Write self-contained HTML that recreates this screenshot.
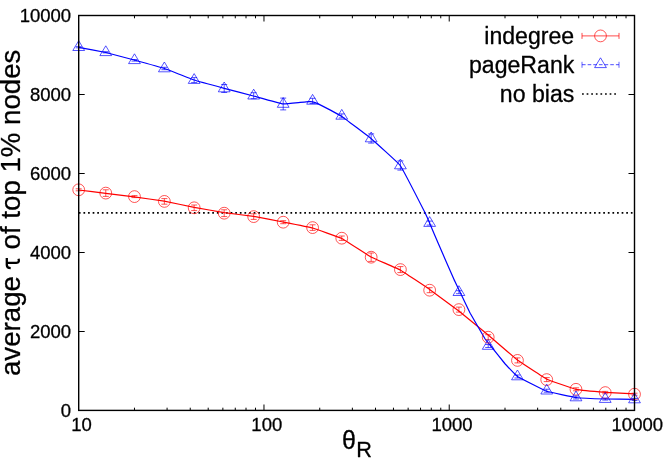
<!DOCTYPE html>
<html><head><meta charset="utf-8"><title>plot</title>
<style>html,body{margin:0;padding:0;background:#fff;}body{width:664px;height:465px;position:relative;overflow:hidden;font-family:"Liberation Sans",sans-serif;}</style></head>
<body>
<svg width="664" height="465" viewBox="0 0 664 465" style="position:absolute;left:0;top:0;will-change:transform;transform:translateZ(0)">
<path d="M134.47,410.50v-2.80M134.47,15.50v2.80M167.09,410.50v-2.80M167.09,15.50v2.80M190.24,410.50v-2.80M190.24,15.50v2.80M208.20,410.50v-2.80M208.20,15.50v2.80M222.87,410.50v-2.80M222.87,15.50v2.80M235.27,410.50v-2.80M235.27,15.50v2.80M246.01,410.50v-2.80M246.01,15.50v2.80M255.49,410.50v-2.80M255.49,15.50v2.80M263.97,410.50v-6.00M263.97,15.50v6.00M319.74,410.50v-2.80M319.74,15.50v2.80M352.36,410.50v-2.80M352.36,15.50v2.80M375.51,410.50v-2.80M375.51,15.50v2.80M393.46,410.50v-2.80M393.46,15.50v2.80M408.13,410.50v-2.80M408.13,15.50v2.80M420.54,410.50v-2.80M420.54,15.50v2.80M431.28,410.50v-2.80M431.28,15.50v2.80M440.76,410.50v-2.80M440.76,15.50v2.80M449.23,410.50v-6.00M449.23,15.50v6.00M505.00,410.50v-2.80M505.00,15.50v2.80M537.63,410.50v-2.80M537.63,15.50v2.80M560.77,410.50v-2.80M560.77,15.50v2.80M578.73,410.50v-2.80M578.73,15.50v2.80M593.40,410.50v-2.80M593.40,15.50v2.80M605.80,410.50v-2.80M605.80,15.50v2.80M616.55,410.50v-2.80M616.55,15.50v2.80M626.02,410.50v-2.80M626.02,15.50v2.80M78.70,331.50h6.00M634.50,331.50h-6.00M78.70,252.50h6.00M634.50,252.50h-6.00M78.70,173.50h6.00M634.50,173.50h-6.00M78.70,94.50h6.00M634.50,94.50h-6.00" stroke="#000" stroke-width="1" fill="none"/>
<path d="M78.85,212.90H634.50" stroke="#000" stroke-width="1.7" stroke-dasharray="1.7 2.9" fill="none"/>
<path d="M78.60,190.00 C79.51,190.11 103.95,193.07 105.80,193.30 C107.65,193.53 132.25,196.54 134.20,196.80 C136.15,197.06 162.20,200.85 164.20,201.20 C166.20,201.55 192.20,206.92 194.20,207.30 C196.20,207.68 222.22,212.30 224.20,212.60 C226.18,212.90 251.64,216.09 253.60,216.40 C255.56,216.71 281.03,221.61 283.00,222.00 C284.97,222.39 310.64,227.45 312.60,228.00 C314.56,228.55 339.85,237.53 341.80,238.50 C343.75,239.47 369.05,255.95 371.00,257.00 C372.95,258.05 398.25,268.92 400.20,270.00 C402.15,271.08 427.65,288.03 429.60,289.40 C431.55,290.77 456.85,309.48 458.80,311.00 C460.75,312.52 486.25,333.37 488.20,335.00 C490.15,336.63 515.45,358.53 517.40,360.00 C519.35,361.47 544.84,378.22 546.80,379.20 C548.76,380.18 574.25,388.86 576.20,389.30 C578.15,389.74 603.46,392.15 605.40,392.30 C607.34,392.45 633.43,393.75 634.40,393.80" stroke="#ff0000" stroke-width="1.2" fill="none" stroke-linejoin="round"/>
<path d="M78.60,47.40 C79.51,47.57 103.95,52.08 105.80,52.50 C107.65,52.92 132.27,59.47 134.20,60.00 C136.13,60.53 161.81,67.63 163.80,68.30 C165.79,68.97 191.99,79.33 194.00,80.00 C196.01,80.67 222.22,87.77 224.20,88.30 C226.18,88.83 251.45,95.48 253.40,96.00 C255.35,96.52 281.24,103.69 282.80,103.90 C284.36,104.11 299.35,102.47 300.20,102.40 C301.05,102.33 307.79,101.72 308.20,101.70 C308.61,101.68 312.27,101.73 312.60,101.80 C312.93,101.87 317.23,103.41 318.20,103.90 C319.17,104.39 340.04,115.35 341.80,116.50 C343.56,117.65 369.05,136.87 371.00,138.50 C372.95,140.13 398.39,163.01 400.20,165.50 C402.01,167.99 424.20,211.13 425.20,213.10 C426.20,215.07 429.77,223.49 430.20,224.50 C430.63,225.51 437.41,241.48 438.20,243.30 C438.99,245.12 453.11,277.46 453.80,279.00 C454.49,280.54 458.25,288.36 458.80,289.50 C459.35,290.64 469.33,311.66 470.20,313.30 C471.07,314.94 484.34,337.74 485.00,338.80 C485.66,339.86 489.33,344.17 490.00,345.00 C490.67,345.83 504.09,362.70 505.00,363.75 C505.91,364.80 516.01,375.48 517.40,376.40 C518.79,377.32 544.84,390.60 546.80,391.30 C548.76,392.00 574.25,397.24 576.20,397.50 C578.15,397.76 603.46,398.94 605.40,399.00 C607.34,399.06 633.43,399.29 634.40,399.30" stroke="#0000ff" stroke-width="1.2" fill="none" stroke-linejoin="round"/>
<g stroke="#ff0000" stroke-width="0.8" fill="none" stroke-opacity="0.85">
<path d="M78.70,188.80V190.80M75.70,188.80h6M75.70,190.80h6M105.77,189.80V196.40M102.77,189.80h6M102.77,196.40h6M134.47,195.60V197.60M131.47,195.60h6M131.47,197.60h6M164.37,198.60V204.20M161.37,198.60h6M161.37,204.20h6M194.17,205.00V210.60M191.17,205.00h6M191.17,210.60h6M224.20,209.80V216.60M221.20,209.80h6M221.20,216.60h6M253.68,213.80V219.40M250.68,213.80h6M250.68,219.40h6M283.20,220.70V223.70M280.20,220.70h6M280.20,223.70h6M312.59,224.80V230.40M309.59,224.80h6M309.59,230.40h6M341.77,236.00V240.40M338.77,236.00h6M338.77,240.40h6M371.17,253.00V261.40M368.17,253.00h6M368.17,261.40h6M400.40,266.60V272.60M397.40,266.60h6M397.40,272.60h6M429.65,287.70V292.70M426.65,287.70h6M426.65,292.70h6M458.92,307.10V312.10M455.92,307.10h6M455.92,312.10h6M488.20,334.70V339.70M485.20,334.70h6M485.20,339.70h6M517.46,357.90V362.90M514.46,357.90h6M514.46,362.90h6M546.72,377.60V381.60M543.72,377.60h6M543.72,381.60h6M575.98,387.80V390.80M572.98,387.80h6M572.98,390.80h6M605.24,391.40V393.80M602.24,391.40h6M602.24,393.80h6M634.50,393.20V395.20M631.50,393.20h6M631.50,395.20h6"/>
<circle cx="78.70" cy="189.80" r="5.9"/>
<circle cx="105.77" cy="193.10" r="5.9"/>
<circle cx="134.47" cy="196.60" r="5.9"/>
<circle cx="164.37" cy="201.40" r="5.9"/>
<circle cx="194.17" cy="207.80" r="5.9"/>
<circle cx="224.20" cy="213.20" r="5.9"/>
<circle cx="253.68" cy="216.60" r="5.9"/>
<circle cx="283.20" cy="222.20" r="5.9"/>
<circle cx="312.59" cy="227.60" r="5.9"/>
<circle cx="341.77" cy="238.20" r="5.9"/>
<circle cx="371.17" cy="257.20" r="5.9"/>
<circle cx="400.40" cy="269.60" r="5.9"/>
<circle cx="429.65" cy="290.20" r="5.9"/>
<circle cx="458.92" cy="309.60" r="5.9"/>
<circle cx="488.20" cy="337.20" r="5.9"/>
<circle cx="517.46" cy="360.40" r="5.9"/>
<circle cx="546.72" cy="379.60" r="5.9"/>
<circle cx="575.98" cy="389.30" r="5.9"/>
<circle cx="605.24" cy="392.60" r="5.9"/>
<circle cx="634.50" cy="394.20" r="5.9"/>
<path d="M582,35.9H619M582,32.9v6M619,32.9v6" stroke-width="1" stroke-opacity="0.7"/><circle cx="600.5" cy="35.9" r="5.9"/>
</g>
<g stroke="#0000ff" stroke-width="0.8" fill="none" stroke-opacity="0.85">
<path d="M78.70,46.60V47.80M75.70,46.60h6M75.70,47.80h6M78.70,40.70L84.60,50.50L72.80,50.50ZM105.77,51.70V52.90M102.77,51.70h6M102.77,52.90h6M105.77,45.80L111.67,55.60L99.87,55.60ZM134.47,59.50V61.10M131.47,59.50h6M131.47,61.10h6M134.47,53.80L140.37,63.60L128.57,63.60ZM164.37,67.30V69.70M161.37,67.30h6M161.37,69.70h6M164.37,62.00L170.27,71.80L158.47,71.80ZM194.17,77.60V82.60M191.17,77.60h6M191.17,82.60h6M194.17,73.60L200.07,83.40L188.27,83.40ZM224.20,84.50V92.50M221.20,84.50h6M221.20,92.50h6M224.20,82.00L230.10,91.80L218.30,91.80ZM253.68,92.70V98.70M250.68,92.70h6M250.68,98.70h6M253.68,89.20L259.58,99.00L247.78,99.00ZM283.20,98.10V109.90M280.20,98.10h6M280.20,109.90h6M283.20,97.50L289.10,107.30L277.30,107.30ZM312.59,98.30V103.50M309.59,98.30h6M309.59,103.50h6M312.59,94.40L318.49,104.20L306.69,104.20ZM341.77,113.90V117.90M338.77,113.90h6M338.77,117.90h6M341.77,109.40L347.67,119.20L335.87,119.20ZM371.17,133.90V143.10M368.17,133.90h6M368.17,143.10h6M371.17,132.00L377.07,141.80L365.27,141.80ZM400.40,160.90V170.10M397.40,160.90h6M397.40,170.10h6M400.40,159.00L406.30,168.80L394.50,168.80ZM429.65,221.10V225.10M426.65,221.10h6M426.65,225.10h6M429.65,216.60L435.55,226.40L423.75,226.40ZM458.92,290.70V293.70M455.92,290.70h6M455.92,293.70h6M458.92,285.70L464.82,295.50L453.02,295.50ZM488.20,344.50V347.50M485.20,344.50h6M485.20,347.50h6M488.20,339.50L494.10,349.30L482.30,349.30ZM517.46,375.00V378.00M514.46,375.00h6M514.46,378.00h6M517.46,370.00L523.36,379.80L511.56,379.80ZM546.72,389.20V392.20M543.72,389.20h6M543.72,392.20h6M546.72,384.20L552.62,394.00L540.82,394.00ZM575.98,396.00V399.00M572.98,396.00h6M572.98,399.00h6M575.98,391.00L581.88,400.80L570.08,400.80ZM605.24,398.10V400.10M602.24,398.10h6M602.24,400.10h6M605.24,392.60L611.14,402.40L599.34,402.40ZM634.50,398.50V400.50M631.50,398.50h6M631.50,400.50h6M634.50,393.00L640.40,402.80L628.60,402.80Z"/>
<path d="M582,64.7H619" stroke-dasharray="3.6 2.05" stroke-width="1" stroke-opacity="0.7"/><path d="M582,61.8v6M619,61.8v6" stroke-width="1" stroke-opacity="0.6"/><path d="M600.50,57.80L606.40,67.60L594.60,67.60Z"/>
</g>
<path d="M582.05,94H616.2" stroke="#000" stroke-width="1.7" stroke-dasharray="1.7 2.9" fill="none"/>
<rect x="78.7" y="15.5" width="555.8" height="394.9" fill="none" stroke="#000" stroke-width="1.4"/>
<g font-family="Liberation Sans, sans-serif" fill="#000" stroke="#000" stroke-width="0.3" stroke-linejoin="round">
<text x="71.1" y="417.1" font-size="18.5" text-anchor="end">0</text>
<text x="71.1" y="338.1" font-size="18.5" text-anchor="end">2000</text>
<text x="71.1" y="259.1" font-size="18.5" text-anchor="end">4000</text>
<text x="71.1" y="180.1" font-size="18.5" text-anchor="end">6000</text>
<text x="71.1" y="101.1" font-size="18.5" text-anchor="end">8000</text>
<text x="71.1" y="22.1" font-size="18.5" text-anchor="end">10000</text>
<text x="81.5" y="430.7" font-size="18.5" text-anchor="middle">10</text>
<text x="266.8" y="430.7" font-size="18.5" text-anchor="middle">100</text>
<text x="452.0" y="430.7" font-size="18.5" text-anchor="middle">1000</text>
<text x="637.3" y="430.7" font-size="18.5" text-anchor="middle">10000</text>
<text x="574.2" y="44.3" font-size="23.1" text-anchor="end">indegree</text>
<text x="574.3" y="73.1" font-size="23.1" text-anchor="end">pageRank</text>
<text x="574.3" y="101.8" font-size="23.1" text-anchor="end">no bias</text>
<text transform="translate(20.4,376.0) rotate(-90)" font-size="27.65" text-anchor="start">average</text>
<text transform="translate(20.4,49.6) rotate(-90)" font-size="27.65" text-anchor="end">of top 1% nodes</text>
<path transform="translate(20.3,269.1) rotate(-90)" d="M0.9,-9.6Q0.9,-13.5 4,-13.5L11.2,-13.5M6.3,-13.5L6.3,-4C6.3,-1.4 7.6,-1.1 10.4,-1.7" fill="none" stroke="#000" stroke-width="2.3"/>
<text x="342" y="449.2" font-size="25">θ</text>
<text x="356.3" y="457.2" font-size="21.7">R</text>
</g>
</svg>
</body></html>
